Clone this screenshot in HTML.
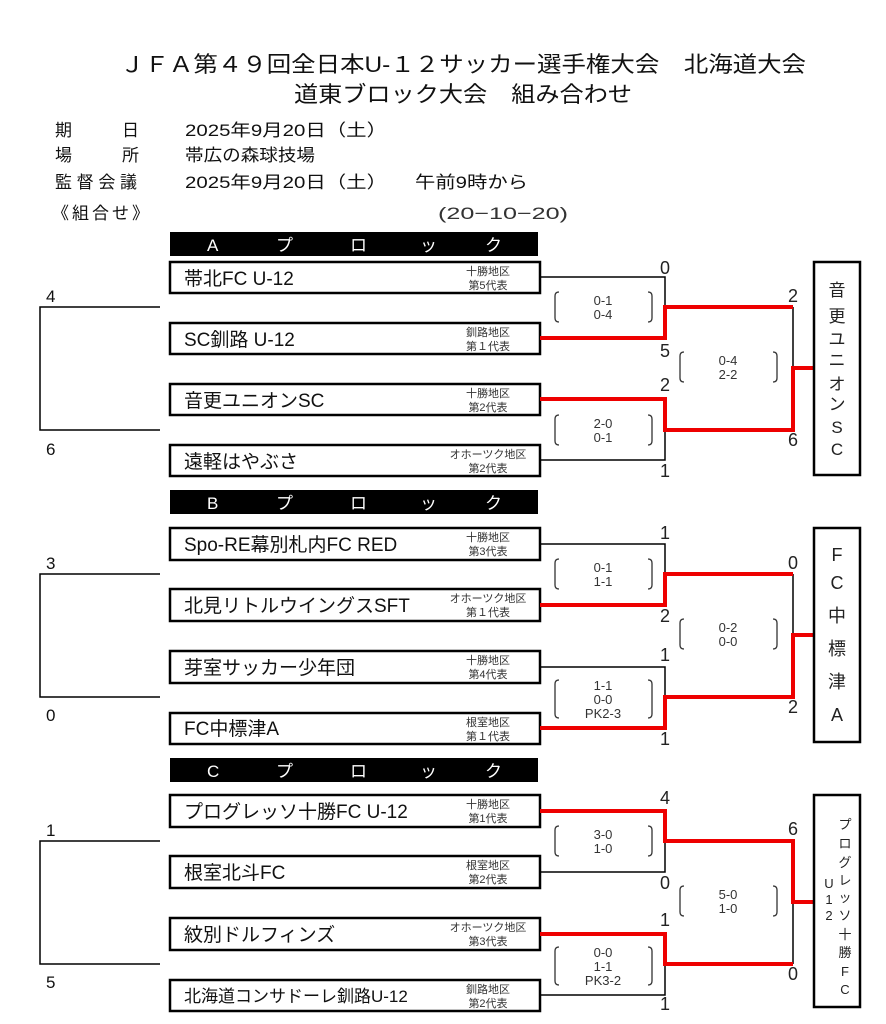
<!DOCTYPE html>
<html><head><meta charset="utf-8"><style>
html,body{margin:0;padding:0;background:#fff;}
svg{display:block;font-family:"Liberation Sans","Noto Sans CJK JP",sans-serif;}
</style></head><body>
<svg width="886" height="1024" viewBox="0 0 886 1024" xmlns="http://www.w3.org/2000/svg">
<rect width="886" height="1024" fill="#fff"/>
<g fill="#111">
<text x="120" y="72" font-size="22" textLength="686" lengthAdjust="spacingAndGlyphs">ＪＦＡ第４９回全日本U-１２サッカー選手権大会　北海道大会</text>
<text x="294" y="102" font-size="22" textLength="338" lengthAdjust="spacingAndGlyphs">道東ブロック大会　組み合わせ</text>
<g font-size="17">
<text x="55" y="136">期</text><text x="122" y="136">日</text><text x="185" y="136" textLength="202" lengthAdjust="spacingAndGlyphs">2025年9月20日（土）</text>
<text x="55" y="161">場</text><text x="122" y="161">所</text><text x="185" y="161" textLength="130" lengthAdjust="spacingAndGlyphs">帯広の森球技場</text>
<text x="55" y="188" textLength="82" lengthAdjust="spacing">監督会議</text><text x="185" y="188" textLength="202" lengthAdjust="spacingAndGlyphs">2025年9月20日（土）</text><text x="415" y="188" textLength="113" lengthAdjust="spacingAndGlyphs">午前9時から</text>
<text x="52" y="219" textLength="97" lengthAdjust="spacing">《組合せ》</text><text x="438" y="219" fill="#333" textLength="130" lengthAdjust="spacingAndGlyphs">(20−10−20)</text>
</g>
</g>

<g>
<rect x="170" y="232" width="368" height="24" fill="#000"/>
<rect x="170" y="490" width="368" height="24" fill="#000"/>
<rect x="170" y="758" width="368" height="24" fill="#000"/>
<g fill="#fff" font-size="17">
<text x="207" y="251">A</text><text x="276" y="251">プ</text><text x="350" y="251">ロ</text><text x="420" y="251">ッ</text><text x="485" y="251">ク</text>
<text x="207" y="509">B</text><text x="276" y="509">プ</text><text x="350" y="509">ロ</text><text x="420" y="509">ッ</text><text x="485" y="509">ク</text>
<text x="207" y="777">C</text><text x="276" y="777">プ</text><text x="350" y="777">ロ</text><text x="420" y="777">ッ</text><text x="485" y="777">ク</text>
</g>
</g>

<g fill="#fff" stroke="#000" stroke-width="2.5">
<rect x="170" y="262" width="370" height="31"/>
<rect x="170" y="323" width="370" height="31"/>
<rect x="170" y="384" width="370" height="31"/>
<rect x="170" y="445" width="370" height="31"/>
<rect x="170" y="528" width="370" height="32"/>
<rect x="170" y="589" width="370" height="32"/>
<rect x="170" y="651" width="370" height="32"/>
<rect x="170" y="713" width="370" height="31"/>
<rect x="170" y="795" width="370" height="32"/>
<rect x="170" y="856" width="370" height="32"/>
<rect x="170" y="918" width="370" height="32"/>
<rect x="170" y="980" width="370" height="31"/>
</g>
<g fill="#111" font-size="19">
<text x="184" y="285">帯北FC U-12</text>
<text x="184" y="346">SC釧路 U-12</text>
<text x="184" y="407">音更ユニオンSC</text>
<text x="184" y="468">遠軽はやぶさ</text>
<text x="184" y="551">Spo-RE幕別札内FC RED</text>
<text x="184" y="612">北見リトルウイングスSFT</text>
<text x="184" y="674">芽室サッカー少年団</text>
<text x="184" y="735">FC中標津A</text>
<text x="184" y="818">プログレッソ十勝FC U-12</text>
<text x="184" y="879">根室北斗FC</text>
<text x="184" y="941">紋別ドルフィンズ</text>
<text x="184" y="1002" font-size="17">北海道コンサドーレ釧路U-12</text>
</g>
<g fill="#333" font-size="11" text-anchor="middle">
<text x="488" y="275">十勝地区</text><text x="488" y="289">第5代表</text>
<text x="488" y="336">釧路地区</text><text x="488" y="350">第１代表</text>
<text x="488" y="397">十勝地区</text><text x="488" y="411">第2代表</text>
<text x="488" y="458">オホーツク地区</text><text x="488" y="472">第2代表</text>
<text x="488" y="541">十勝地区</text><text x="488" y="555">第3代表</text>
<text x="488" y="602">オホーツク地区</text><text x="488" y="616">第１代表</text>
<text x="488" y="664">十勝地区</text><text x="488" y="678">第4代表</text>
<text x="488" y="726">根室地区</text><text x="488" y="740">第１代表</text>
<text x="488" y="808">十勝地区</text><text x="488" y="822">第1代表</text>
<text x="488" y="869">根室地区</text><text x="488" y="883">第2代表</text>
<text x="488" y="931">オホーツク地区</text><text x="488" y="945">第3代表</text>
<text x="488" y="993">釧路地区</text><text x="488" y="1007">第2代表</text>
</g>

<g fill="none" stroke="#000" stroke-width="1.5">
<polyline points="160,307 40,307 40,430 160,430"/>
<polyline points="160,574 40,574 40,697 160,697"/>
<polyline points="160,841 40,841 40,964 160,964"/>
</g>
<g fill="#111" font-size="17">
<text x="46" y="302">4</text><text x="46" y="455">6</text>
<text x="46" y="569">3</text><text x="46" y="721">0</text>
<text x="46" y="836">1</text><text x="46" y="988">5</text>
</g>

<g fill="none" stroke="#000" stroke-width="1.5">
<polyline points="540,277 665,277 665,307"/>
<polyline points="540,460 665,460 665,430"/>
<line x1="793" y1="307" x2="793" y2="368"/>
<polyline points="540,544 665,544 665,574"/>
<polyline points="540,667 665,667 665,697"/>
<line x1="793" y1="574" x2="793" y2="635"/>
<polyline points="540,872 665,872 665,841"/>
<polyline points="540,995 665,995 665,964"/>
<line x1="793" y1="902" x2="793" y2="964"/>
</g>
<g fill="none" stroke="#e00" stroke-width="4">
<polyline points="540,338 665,338 665,307 793,307"/>
<polyline points="540,399 665,399 665,430 793,430 793,368 813,368"/>
<polyline points="540,605 665,605 665,574 793,574"/>
<polyline points="540,728 665,728 665,697 793,697 793,635 813,635"/>
<polyline points="540,811 665,811 665,841 793,841 793,902 813,902"/>
<polyline points="540,934 665,934 665,964 793,964"/>
</g>

<g fill="#222" font-size="18" text-anchor="middle">
<text x="665" y="274">0</text><text x="665" y="357">5</text><text x="665" y="391">2</text><text x="665" y="477">1</text>
<text x="793" y="302">2</text><text x="793" y="446">6</text>
<text x="665" y="539">1</text><text x="665" y="622">2</text><text x="665" y="661">1</text><text x="665" y="745">1</text>
<text x="793" y="569">0</text><text x="793" y="713">2</text>
<text x="665" y="804">4</text><text x="665" y="889">0</text><text x="665" y="926">1</text><text x="665" y="1010">1</text>
<text x="793" y="835">6</text><text x="793" y="980">0</text>
</g>

<g fill="none" stroke="#333" stroke-width="1.3">
<path d="M559,292 q-4,0 -4,4 v22 q0,4 4,4"/><path d="M648,292 q4,0 4,4 v22 q0,4 -4,4"/>
<path d="M559,415 q-4,0 -4,4 v22 q0,4 4,4"/><path d="M648,415 q4,0 4,4 v22 q0,4 -4,4"/>
<path d="M684,352 q-4,0 -4,4 v22 q0,4 4,4"/><path d="M773,352 q4,0 4,4 v22 q0,4 -4,4"/>
<path d="M559,559 q-4,0 -4,4 v22 q0,4 4,4"/><path d="M648,559 q4,0 4,4 v22 q0,4 -4,4"/>
<path d="M559,680 q-4,0 -4,4 v30 q0,4 4,4"/><path d="M648,680 q4,0 4,4 v30 q0,4 -4,4"/>
<path d="M684,619 q-4,0 -4,4 v22 q0,4 4,4"/><path d="M773,619 q4,0 4,4 v22 q0,4 -4,4"/>
<path d="M559,826 q-4,0 -4,4 v22 q0,4 4,4"/><path d="M648,826 q4,0 4,4 v22 q0,4 -4,4"/>
<path d="M559,947 q-4,0 -4,4 v30 q0,4 4,4"/><path d="M648,947 q4,0 4,4 v30 q0,4 -4,4"/>
<path d="M684,886 q-4,0 -4,4 v22 q0,4 4,4"/><path d="M773,886 q4,0 4,4 v22 q0,4 -4,4"/>
</g>
<g fill="#333" font-size="13" text-anchor="middle">
<text x="603" y="305">0-1</text><text x="603" y="319">0-4</text>
<text x="603" y="428">2-0</text><text x="603" y="442">0-1</text>
<text x="728" y="365">0-4</text><text x="728" y="379">2-2</text>
<text x="603" y="572">0-1</text><text x="603" y="586">1-1</text>
<text x="603" y="690">1-1</text><text x="603" y="704">0-0</text><text x="603" y="718">PK2-3</text>
<text x="728" y="632">0-2</text><text x="728" y="646">0-0</text>
<text x="603" y="839">3-0</text><text x="603" y="853">1-0</text>
<text x="603" y="957">0-0</text><text x="603" y="971">1-1</text><text x="603" y="985">PK3-2</text>
<text x="728" y="899">5-0</text><text x="728" y="913">1-0</text>
</g>

<g fill="#fff" stroke="#000" stroke-width="2.5">
<rect x="814" y="262" width="46" height="213"/>
<rect x="814" y="528" width="46" height="214"/>
<rect x="814" y="795" width="46" height="212"/>
</g>
<g fill="#222" font-size="17" text-anchor="middle">
<text x="837" y="296">音</text><text x="837" y="322">更</text><text x="837" y="345">ユ</text><text x="837" y="366">ニ</text><text x="837" y="390">オ</text><text x="837" y="410">ン</text><text x="837" y="433">S</text><text x="837" y="455">C</text>
</g>
<g fill="#222" font-size="18" text-anchor="middle">
<text x="837" y="561">F</text><text x="837" y="589">C</text><text x="837" y="622">中</text><text x="837" y="655">標</text><text x="837" y="688">津</text><text x="837" y="721">A</text>
</g>
<g fill="#222" font-size="13" text-anchor="middle">
<text x="845" y="829">プ</text><text x="845" y="848">ロ</text><text x="845" y="867">グ</text><text x="845" y="885">レ</text><text x="845" y="902">ッ</text><text x="845" y="920">ソ</text><text x="845" y="939">十</text><text x="845" y="957">勝</text><text x="845" y="976">F</text><text x="845" y="994">C</text>
<text x="829" y="888">U</text><text x="829" y="904">1</text><text x="829" y="920">2</text>
</g>
</svg>
</body></html>
